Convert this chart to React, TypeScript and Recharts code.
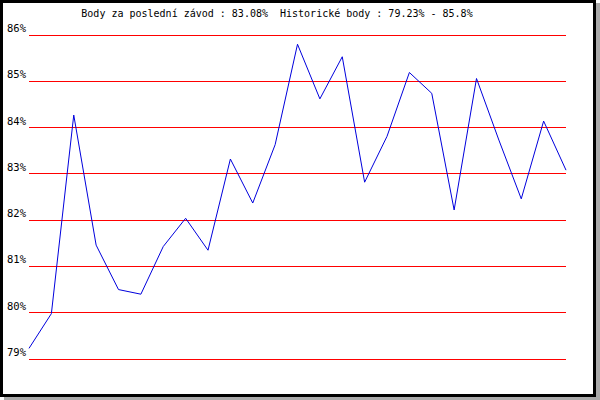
import React from "react";
import { LineChart, Line, XAxis, YAxis, CartesianGrid } from "recharts";

const races = [
  "1", "2", "3", "4", "5", "6", "7", "8", "9", "10", "11", "12", "13",
  "14", "15", "16", "17", "18", "19", "20", "21", "22", "23", "24", "25",
];
const points = [
  79.23, 79.98, 84.27, 81.46, 80.5, 80.4, 81.43, 82.04, 81.35, 83.32, 82.37,
  83.63, 85.8, 84.62, 85.53, 82.82, 83.81, 85.19, 84.74, 82.22, 85.06, 83.73,
  82.46, 84.14, 83.08,
];
const yTicks = [79, 80, 81, 82, 83, 84, 85, 86];
const title =
  "Body za poslední závod : 83.08%  Historické body : 79.23% - 85.8%";

const data = races.map((race, i) => ({ race, value: points[i] }));

const FONT = "'DejaVu Sans Mono', 'Liberation Mono', monospace";

const PercentTick = (props: any) => {
  const { y, payload } = props;
  return (
    <text x={26} y={y - 3} textAnchor="end" fontSize={10.5} fontFamily={FONT} fill="#000">
      {payload.value}%
    </text>
  );
};

const App = () => {
  return (
    <div style={{ position: "absolute", left: 0, top: 0, width: 600, height: 400, background: "#fff" }}>
      <div
        style={{
          position: "absolute",
          left: 0,
          top: 0,
          width: 596,
          height: 397,
          boxSizing: "border-box",
          border: "3px solid #000",
          boxShadow: "4px 3px 0 #aaaaaa",
          background: "#fff",
        }}
      />
      <svg width={600} height={400} style={{ position: "absolute", left: 0, top: 0 }}>
        <text
          x={277}
          y={17}
          textAnchor="middle"
          fontSize={10}
          fontFamily={FONT}
          fill="#000"
          style={{ whiteSpace: "pre" }}
        >
          {title}
        </text>
      </svg>
      <div style={{ position: "absolute", left: 0, top: 0 }}>
        <LineChart
          width={600}
          height={400}
          data={data}
          margin={{ top: 35, right: 34, bottom: 41, left: 0 }}
        >
          <CartesianGrid vertical={false} stroke="#ff0000" strokeDasharray="" shapeRendering="crispEdges" />
          <XAxis dataKey="race" hide />
          <YAxis
            domain={[79, 86]}
            ticks={yTicks}
            width={29}
            axisLine={false}
            tickLine={false}
            tick={<PercentTick />}
            interval={0}
          />
          <Line
            type="linear"
            dataKey="value"
            stroke="#0000dd"
            strokeWidth={1}
            dot={false}
            isAnimationActive={false}
          />
        </LineChart>
      </div>
    </div>
  );
};

export default App;
